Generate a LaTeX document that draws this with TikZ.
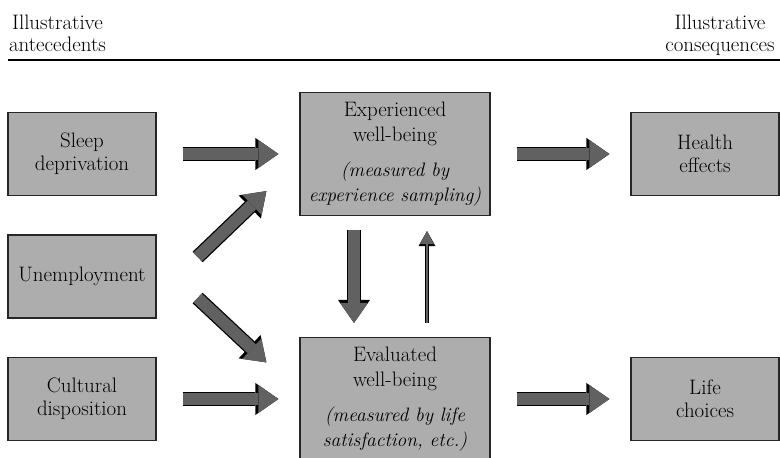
\documentclass[tikz,border=0pt]{standalone}
\usepackage{fontspec}
\usetikzlibrary{arrows.meta}
\definecolor{boxgray}{gray}{0.68}
\definecolor{arrowgray}{gray}{0.38}
\newcommand{\measnote}[1]{{\fontsize{19.5}{25}\selectfont\itshape #1}}

\tikzset{
  sidebox/.style={draw=black!85, line width=1.2bp, fill=boxgray, minimum width=148bp,
    minimum height=83bp, inner sep=1bp, align=center, font=\fontsize{21}{23}\selectfont},
  wellbox/.style={sidebox, minimum width=190bp, minimum height=123bp,
    font=\fontsize{21}{25}\selectfont},
  headtext/.style={align=center, inner sep=0pt, anchor=north, font=\fontsize{21}{22}\selectfont},
  fatarrow/.style={draw=arrowgray, line width=12bp,
    -{Triangle[width=28bp,length=20bp,line width=0bp]},
    preaction={draw=black, line width=14.5bp, -{Triangle[width=32bp,length=23bp,line width=0bp]}}},
  thinarrow/.style={draw=arrowgray, line width=2.5bp,
    -{Triangle[width=14bp,length=13bp,line width=0bp]},
    preaction={draw=black, line width=4bp, -{Triangle[width=17bp,length=15bp,line width=0bp]}}},
}

\begin{document}
\begin{tikzpicture}[x=1bp, y=1bp, node distance=122.5bp]
    \useasboundingbox (0,0) rectangle (780,458);
    % headings and rule
    \node[headtext] (antehead) at (57.5,443) {Illustrative\\antecedents};
    \node[headtext] (conshead) at (720,443) {Illustrative\\consequences};
    \coordinate (ruleleft) at (8,398);
    \coordinate (ruleright) at (780,398);
    \draw[line width=1.2bp] (ruleleft) -- (ruleright);
    % antecedents
    \node[sidebox] (sleep) at (82,304) {Sleep\\deprivation};
    \node[sidebox] (unemp) [below of=sleep] {Unemployment};
    \node[sidebox] (cult) [below of=unemp] {Cultural\\disposition};
    % well-being
    \node[wellbox, node distance=313bp] (exp) [right of=sleep]
      {Experienced\\well-being\\[10bp]\measnote{(measured by}\\\measnote{experience sampling)}};
    \node[wellbox, node distance=313bp] (eval) [right of=cult]
      {Evaluated\\well-being\\[10bp]\measnote{(measured by life}\\\measnote{satisfaction, etc.)}};
    % consequences
    \node[sidebox, node distance=310bp] (health) [right of=exp] {Health\\effects};
    \node[sidebox, node distance=310bp] (life) [right of=eval] {Life\\choices};
\begin{scope}[shorten <=26bp, shorten >=21bp]
    \draw[fatarrow] (sleep.east) -- (exp.west);
    \draw[fatarrow] (cult.east) -- (eval.west);
    \draw[fatarrow] (exp.east) -- (health.west);
    \draw[fatarrow] (eval.east) -- (life.west);
\end{scope}
    \draw[fatarrow] ([xshift=41bp, yshift=19.5bp]unemp.east) -- ([xshift=-33bp, yshift=25bp]exp.south west);
    \draw[fatarrow] ([xshift=41bp, yshift=-21.5bp]unemp.east) -- ([xshift=-33bp, yshift=-25.5bp]eval.north west);
    \draw[fatarrow, shorten <=14bp, shorten >=14bp] ([xshift=-41bp]exp.south) -- ([xshift=-41bp]eval.north);
    \draw[thinarrow, shorten <=14bp, shorten >=15bp] ([xshift=32bp]eval.north) -- ([xshift=32bp]exp.south);
\end{tikzpicture}
\end{document}
